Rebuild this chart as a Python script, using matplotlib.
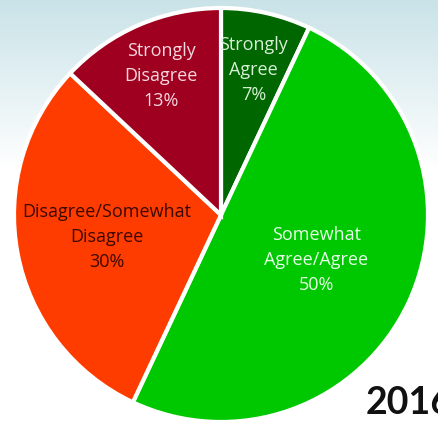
import numpy as np
import matplotlib.pyplot as plt

labels = ["Strongly\nAgree", "Somewhat\nAgree/Agree", "Disagree/Somewhat\nDisagree", "Strongly\nDisagree"]
values = [7, 50, 30, 13]
colors = ["#006600", "#00c800", "#ff3c00", "#a00020"]
text_colors = ["#d6f0d6", "#e6ffe6", "#3a0800", "#f4d8de"]
label_r = [0.72, 0.51, 0.56, 0.73]

fig = plt.figure(figsize=(4.39, 4.22), dpi=100)
ax = fig.add_axes([0, 0, 1, 1])
R = 207.0
x0, x1 = -221 / R, (439 - 221) / R
y0, y1 = -(422 - 215) / R, 215 / R

# background gradient: light teal at the top fading to white
grad = np.linspace(0, 1, 256).reshape(-1, 1)
grad = np.clip(grad / 0.4, 0, 1)
top = np.array([0.79, 0.89, 0.91])
bot = np.array([1.0, 1.0, 1.0])
img = top[None, None, :] * (1 - grad[:, :, None]) + bot[None, None, :] * grad[:, :, None]
ax.imshow(img, extent=[x0, x1, y0, y1], aspect="auto", zorder=0, origin="upper")

wedges, _ = ax.pie(values, colors=colors, startangle=90, counterclock=False,
                   radius=1.0, wedgeprops=dict(edgecolor="white", linewidth=3))
for w in wedges:
    w.set_zorder(2)
ax.set_xlim(x0, x1)
ax.set_ylim(y0, y1)
ax.axis("off")

for w, lab, v, tc, r in zip(wedges, labels, values, text_colors, label_r):
    ang = np.deg2rad((w.theta1 + w.theta2) / 2)
    ax.text(r * np.cos(ang), r * np.sin(ang), f"{lab}\n{v}%", ha="center", va="center",
            color=tc, fontsize=13, family="Open Sans", linespacing=1.5, zorder=3)

fig.text(366 / 439, 2 / 422, "2016", ha="left", va="bottom", fontsize=27,
         fontweight="bold", family="Lato", color="#111111")

fig.savefig("out.png", dpi=100)
